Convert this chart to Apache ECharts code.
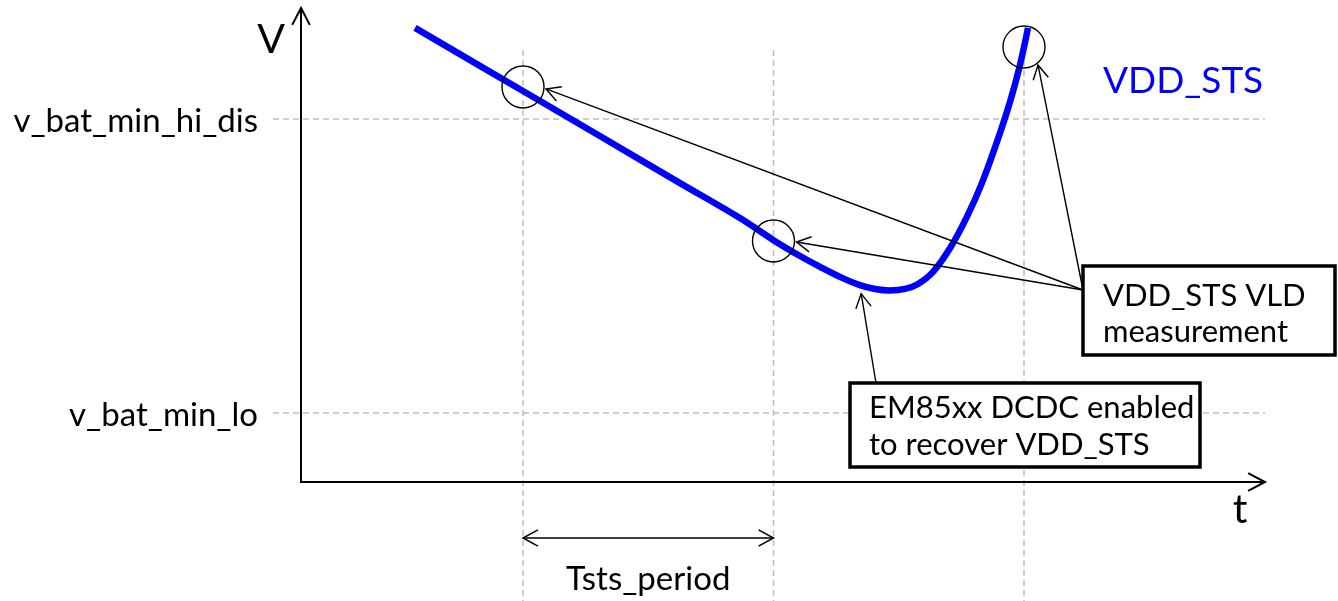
<!DOCTYPE html>
<html><head><meta charset="utf-8">
<script src="https://cdn.jsdelivr.net/npm/echarts@6/dist/echarts.min.js"></script>
<style>html,body{margin:0;padding:0;background:#fff}#c{width:1338px;height:601px}</style>
</head><body><div id="c"></div>
<script>
// ---------------- data ----------------
const LEVEL_NAMES = ['v_bat_min_hi_dis', 'v_bat_min_lo'];
const LEVEL_VALUES = [2, 1];
const SAMPLE_TIMES = [1, 2, 3];
const PERIOD_SPAN = [1, 2];
const PERIOD_LABEL = 'Tsts_period';
const CURVE_NAME = 'VDD_STS';
const CURVE_T = [0.569, 1.0, 1.307, 1.627, 1.866, 2.0, 2.106, 2.186, 2.265, 2.345, 2.405, 2.465, 2.525, 2.577, 2.637, 2.705, 2.772, 2.832, 2.892, 2.944, 2.984, 3.016];
const CURVE_V = [2.310, 2.095, 1.942, 1.782, 1.663, 1.588, 1.534, 1.497, 1.463, 1.435, 1.422, 1.417, 1.422, 1.439, 1.480, 1.561, 1.667, 1.782, 1.922, 2.058, 2.184, 2.310];
const MEAS_T = [1, 2, 3];
const MEAS_V = [2.109, 1.585, 2.245];
const DCDC_POINT = [2.35, 1.43];
const AXIS_ORIGIN = [0.1138, 0.7653];
const AXIS_END = [3.962, 2.3776];
const BOX_MEAS_TEXT = ['VDD_STS VLD', 'measurement'];
const BOX_DCDC_TEXT = ['EM85xx DCDC enabled', 'to recover VDD_STS'];

// ---------------- style ----------------
const FONT = 'Lato, "Noto Sans", sans-serif';
const f = s => s + 'px ' + FONT;
const DASH = {stroke: '#BFBFBF', lineWidth: 1.5, lineDash: [6, 4], fill: null};
const THIN = {stroke: '#000', lineWidth: 1.4, fill: null};

function chevron(tip, from, len, ang) {
  const dx = from[0] - tip[0], dy = from[1] - tip[1];
  const d = Math.hypot(dx, dy), ux = dx / d, uy = dy / d;
  const c = Math.cos(ang), s = Math.sin(ang);
  const w1 = [tip[0] + len * (ux * c - uy * s), tip[1] + len * (ux * s + uy * c)];
  const w2 = [tip[0] + len * (ux * c + uy * s), tip[1] + len * (-ux * s + uy * c)];
  return [w1, tip, w2];
}
function arrowEls(from, tip, style, len, ang) {
  return [
    {type: 'line', shape: {x1: from[0], y1: from[1], x2: tip[0], y2: tip[1]}, style: style},
    {type: 'polyline', shape: {points: chevron(tip, from, len, ang)}, style: style}
  ];
}

const chart = echarts.init(document.getElementById('c'), null, {renderer: 'canvas'});

function guides(params, api) {
  const ch = [];
  const H = api.getHeight();
  const o = api.coord(AXIS_ORIGIN);
  const xe = api.coord([AXIS_END[0], AXIS_ORIGIN[1]]);
  const ye = api.coord([AXIS_ORIGIN[0], AXIS_END[1]]);
  LEVEL_VALUES.forEach((v, i) => {
    const p = api.coord([AXIS_ORIGIN[0], v]);
    ch.push({type: 'line', shape: {x1: p[0] - 28, y1: p[1], x2: xe[0], y2: p[1]}, style: DASH, z2: 1});
    ch.push({type: 'text', style: {text: LEVEL_NAMES[i], x: p[0] - 43, y: p[1] + 2, align: 'right', verticalAlign: 'middle', font: f(33), fill: '#000'}});
  });
  SAMPLE_TIMES.forEach(t => {
    const p = api.coord([t, AXIS_ORIGIN[1]]);
    ch.push({type: 'line', shape: {x1: p[0], y1: ye[1] + 42, x2: p[0], y2: H}, style: DASH, z2: 1});
  });
  const AX = {stroke: '#000', lineWidth: 2, fill: null};
  ch.push({type: 'polyline', shape: {points: [[o[0], ye[1]], [o[0], o[1]], [xe[0], o[1]]]}, style: AX, z2: 5});
  ch.push({type: 'polyline', shape: {points: chevron([o[0], ye[1]], [o[0], o[1]], 19, 0.48)}, style: AX, z2: 5});
  ch.push({type: 'polyline', shape: {points: chevron([xe[0], o[1]], [o[0], o[1]], 19, 0.48)}, style: AX, z2: 5});
  ch.push({type: 'text', style: {text: 'V', x: o[0] - 30, y: ye[1] + 32, align: 'center', verticalAlign: 'middle', font: f(41), fill: '#000'}});
  ch.push({type: 'text', style: {text: 't', x: xe[0] - 25, y: o[1] + 28, align: 'center', verticalAlign: 'middle', font: f(41), fill: '#000'}});
  const a = api.coord([PERIOD_SPAN[0], AXIS_ORIGIN[1]]);
  const b = api.coord([PERIOD_SPAN[1], AXIS_ORIGIN[1]]);
  const ya = o[1] + 56;
  const ST = {stroke: '#000', lineWidth: 1.5, fill: null};
  ch.push({type: 'line', shape: {x1: a[0], y1: ya, x2: b[0], y2: ya}, style: ST});
  ch.push({type: 'polyline', shape: {points: chevron([a[0], ya], [b[0], ya], 17, 0.5)}, style: ST});
  ch.push({type: 'polyline', shape: {points: chevron([b[0], ya], [a[0], ya], 17, 0.5)}, style: ST});
  ch.push({type: 'text', style: {text: PERIOD_LABEL, x: (a[0] + b[0]) / 2, y: o[1] + 97, align: 'center', verticalAlign: 'middle', font: f(33), fill: '#000'}});
  return {type: 'group', children: ch};
}

function notes(params, api) {
  const ch = [];
  const R = 21;
  const cs = MEAS_T.map((t, i) => api.coord([t, MEAS_V[i]]));
  cs.forEach(c => ch.push({type: 'circle', shape: {cx: c[0], cy: c[1], r: R}, style: THIN, z2: 10}));
  const b1 = {x: 1083, y: 266, w: 252, h: 89};
  const b2 = {x: 850, y: 383, w: 350, h: 84};
  const anchor = [b1.x, b1.y + 24];
  const tips = [[cs[0][0] + 23, cs[0][1] + 2], [cs[1][0] + 23, cs[1][1] + 1], [cs[2][0] + 14, cs[2][1] + 18]];
  tips.forEach(tp => arrowEls(anchor, tp, THIN, 16, 0.5).forEach(e => { e.z2 = 8; ch.push(e); }));
  const dp = api.coord(DCDC_POINT);
  arrowEls([b2.x + 26, b2.y], [dp[0], dp[1] + 7], THIN, 16, 0.5).forEach(e => { e.z2 = 8; ch.push(e); });
  [b1, b2].forEach(b => ch.push({type: 'rect', shape: {x: b.x, y: b.y, width: b.w, height: b.h}, style: {stroke: '#000', lineWidth: 3.5, fill: '#fff'}, z2: 20}));
  BOX_MEAS_TEXT.forEach((t, i) => ch.push({type: 'text', z2: 21, style: {text: t, x: b1.x + 20, y: b1.y + 30 + i * 36, verticalAlign: 'middle', font: f(31), fill: '#000'}}));
  BOX_DCDC_TEXT.forEach((t, i) => ch.push({type: 'text', z2: 21, style: {text: t, x: b2.x + 19, y: b2.y + 25 + i * 37, verticalAlign: 'middle', font: f(31), fill: '#000'}}));
  ch.push({type: 'text', z2: 21, style: {text: CURVE_NAME, x: 1103, y: 81, verticalAlign: 'middle', font: f(37), fill: '#0000FF'}});
  return {type: 'group', children: ch};
}

chart.setOption({
  animation: false,
  backgroundColor: '#fff',
  grid: {left: 0, right: 0, top: 0, bottom: 0},
  xAxis: {type: 'value', min: -1.08782, max: 4.25349, show: false},
  yAxis: {type: 'value', min: 0.36054, max: 2.40476, show: false},
  series: [
    {type: 'custom', name: 'guides', renderItem: guides, data: [0], silent: true, z: 1},
    {type: 'line', name: CURVE_NAME, data: CURVE_T.map((t, i) => [t, CURVE_V[i]]), smooth: 0.35, showSymbol: false, symbol: 'none',
     lineStyle: {color: '#0000FF', width: 6.5}, z: 3},
    {type: 'custom', name: 'notes', renderItem: notes, data: [0], silent: true, z: 4}
  ]
});
</script></body></html>
